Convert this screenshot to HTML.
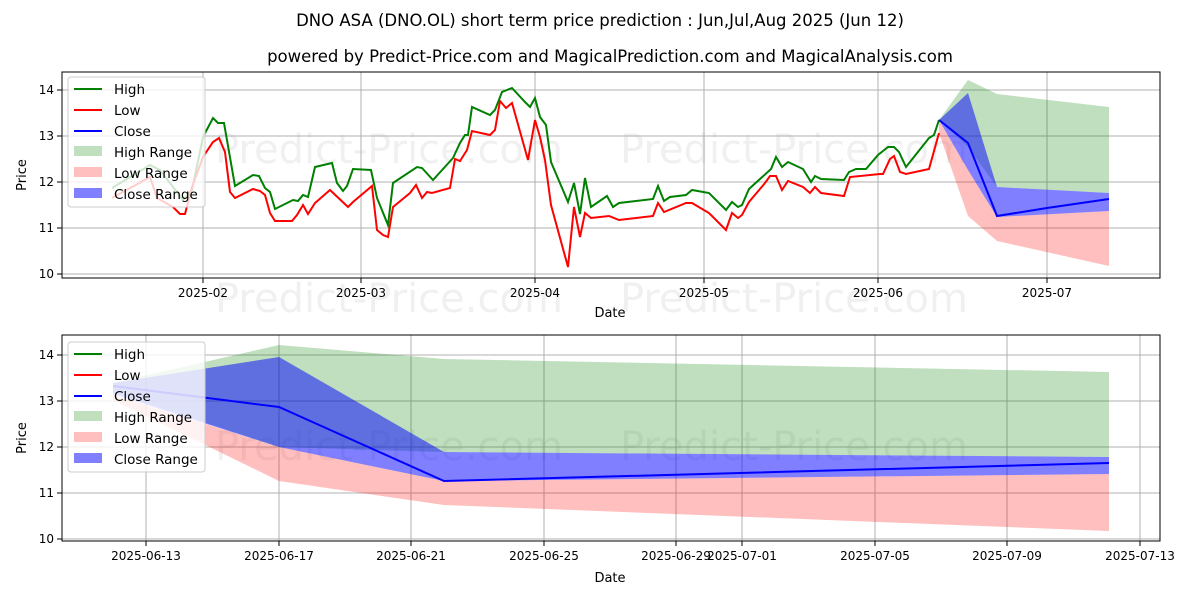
<!DOCTYPE html>
<html><head><meta charset="utf-8"><style>
body{margin:0;background:#fff}
svg text{font-family:"DejaVu Sans","Liberation Sans",sans-serif}
</style></head><body>
<svg width="1200" height="600" viewBox="0 0 1200 600" xmlns="http://www.w3.org/2000/svg">
<rect width="1200" height="600" fill="#fff"/>
<text x="600" y="26" font-size="16.5" text-anchor="middle">DNO ASA (DNO.OL) short term price prediction : Jun,Jul,Aug 2025 (Jun 12)</text>
<text x="610" y="62" font-size="16.5" text-anchor="middle">powered by Predict-Price.com and MagicalPrediction.com and MagicalAnalysis.com</text>

<!-- TOP CHART -->
<g>
<g fill="#000" fill-opacity="0.06" font-size="40">
<text x="215" y="163">Predict-Price.com</text><text x="620" y="163">Predict-Price.com</text>
<text x="215" y="312">Predict-Price.com</text><text x="620" y="312">Predict-Price.com</text>
</g>
<g stroke="#b0b0b0" stroke-width="1">
<line x1="203" y1="72" x2="203" y2="278"/><line x1="361" y1="72" x2="361" y2="278"/><line x1="535" y1="72" x2="535" y2="278"/><line x1="704" y1="72" x2="704" y2="278"/><line x1="878" y1="72" x2="878" y2="278"/><line x1="1047" y1="72" x2="1047" y2="278"/>
<line x1="62" y1="90" x2="1160" y2="90"/><line x1="62" y1="136" x2="1160" y2="136"/><line x1="62" y1="182" x2="1160" y2="182"/><line x1="62" y1="228" x2="1160" y2="228"/><line x1="62" y1="274" x2="1160" y2="274"/>
</g>
<polygon points="939,120 968,80 997,94 1109,107 1109,193 997,187 968,147" fill="#008000" fill-opacity="0.25"/>
<polygon points="939,120 968,170 997,217 1109,211 1109,266 997,241 968,216 939,133" fill="#ff0000" fill-opacity="0.25"/>
<polygon points="939,120 968,93 997,187 1109,193 1109,211 997,217 968,170" fill="#0000ff" fill-opacity="0.5"/>
<polyline fill="none" stroke="#008000" stroke-width="2" points="112,188 150,165 160,170 183,200 192,190 203,137 213,118 218,123 224,123 235,186 253,175 259,176 265,188 270,192 275,209 293,200 298,201 303,195 308,197 315,167 332,163 337,183 343,191 347,186 353,169 371,170 377,198 388,225 393,183 417,167 422,168 433,180 453,158 460,143 465,135 468,135 472,107 490,115 495,110 502,92 512,88 525,102 530,107 535,98 540,117 546,125 551,162 568,202 574,183 580,214 585,178 591,207 607,196 613,207 619,203 653,199 658,186 664,201 670,197 686,195 692,190 709,193 726,210 732,202 738,207 742,205 749,189 771,169 776,157 782,167 788,162 803,169 811,182 815,176 821,179 844,180 849,172 856,169 866,169 878,155 888,147 894,147 899,152 906,167 929,138 934,135 939,120"/>
<polyline fill="none" stroke="#ff0000" stroke-width="2" points="112,198 150,177 157,198 173,207 180,214 185,214 192,187 203,157 213,142 219,138 225,152 230,192 235,198 253,189 260,191 265,195 270,213 275,221 292,221 297,215 303,205 308,214 315,203 330,190 348,207 353,202 372,186 377,230 383,235 388,237 393,207 410,193 416,185 422,198 427,192 432,193 450,188 455,159 460,161 467,150 472,131 490,135 495,130 500,101 506,108 512,103 528,160 535,120 540,137 545,160 551,205 568,267 574,207 580,237 585,213 591,218 609,216 619,220 653,216 658,203 664,212 686,203 692,203 709,213 726,230 732,213 738,218 742,215 749,202 765,183 770,176 776,176 782,190 788,181 803,187 810,193 815,187 821,193 844,196 850,177 880,174 883,174 890,159 894,156 900,172 906,174 929,169 939,133"/>
<polyline fill="none" stroke="#0000ff" stroke-width="2" points="939,120 968,143 997,216 1047,208 1109,199"/>
<rect x="62" y="72" width="1098" height="206" fill="none" stroke="#000" stroke-width="1"/>
<g stroke="#000"><line x1="57" y1="90" x2="62" y2="90"/><line x1="57" y1="136" x2="62" y2="136"/><line x1="57" y1="182" x2="62" y2="182"/><line x1="57" y1="228" x2="62" y2="228"/><line x1="57" y1="274" x2="62" y2="274"/>
<line x1="203" y1="278" x2="203" y2="283"/><line x1="361" y1="278" x2="361" y2="283"/><line x1="535" y1="278" x2="535" y2="283"/><line x1="704" y1="278" x2="704" y2="283"/><line x1="878" y1="278" x2="878" y2="283"/><line x1="1047" y1="278" x2="1047" y2="283"/></g>
<g font-size="12" text-anchor="end"><text x="54" y="94">14</text><text x="54" y="140">13</text><text x="54" y="186">12</text><text x="54" y="232">11</text><text x="54" y="278">10</text></g>
<g font-size="12" text-anchor="middle"><text x="203" y="297">2025-02</text><text x="361" y="297">2025-03</text><text x="535" y="297">2025-04</text><text x="704" y="297">2025-05</text><text x="878" y="297">2025-06</text><text x="1047" y="297">2025-07</text></g>
<text x="610" y="317" font-size="13" text-anchor="middle">Date</text>
<text x="26" y="175" font-size="13" text-anchor="middle" transform="rotate(-90 26 175)">Price</text>
<rect x="68" y="77" width="137" height="130" rx="3" fill="#fff" fill-opacity="0.8" stroke="#ccc"/>
<g font-size="13.5">
<line x1="74" y1="89" x2="102" y2="89" stroke="#008000" stroke-width="2"/><text x="114" y="94">High</text>
<line x1="74" y1="110" x2="102" y2="110" stroke="#ff0000" stroke-width="2"/><text x="114" y="115">Low</text>
<line x1="74" y1="131" x2="102" y2="131" stroke="#0000ff" stroke-width="2"/><text x="114" y="136">Close</text>
<rect x="74" y="146" width="28" height="10" fill="#008000" fill-opacity="0.25"/><text x="114" y="157">High Range</text>
<rect x="74" y="167" width="28" height="10" fill="#ff0000" fill-opacity="0.25"/><text x="114" y="178">Low Range</text>
<rect x="74" y="188" width="28" height="10" fill="#0000ff" fill-opacity="0.5"/><text x="114" y="199">Close Range</text>
</g>
</g>

<!-- BOTTOM CHART -->
<g>
<g fill="#000" fill-opacity="0.06" font-size="40">
<text x="215" y="460">Predict-Price.com</text><text x="620" y="460">Predict-Price.com</text>
</g>
<g stroke="#b0b0b0" stroke-width="1">
<line x1="146" y1="335" x2="146" y2="541"/><line x1="279" y1="335" x2="279" y2="541"/><line x1="411" y1="335" x2="411" y2="541"/><line x1="544" y1="335" x2="544" y2="541"/><line x1="676" y1="335" x2="676" y2="541"/><line x1="742" y1="335" x2="742" y2="541"/><line x1="875" y1="335" x2="875" y2="541"/><line x1="1007" y1="335" x2="1007" y2="541"/><line x1="1140" y1="335" x2="1140" y2="541"/>
<line x1="62" y1="355" x2="1160" y2="355"/><line x1="62" y1="401" x2="1160" y2="401"/><line x1="62" y1="447" x2="1160" y2="447"/><line x1="62" y1="493" x2="1160" y2="493"/><line x1="62" y1="539" x2="1160" y2="539"/>
</g>
<polygon points="113,383 279,345 444,359 1109,372 1109,457 444,452 279,447 113,392" fill="#008000" fill-opacity="0.25"/>
<polygon points="113,395 279,447 444,481 1109,474 1109,531 444,505 279,481 113,400" fill="#ff0000" fill-opacity="0.25"/>
<polygon points="113,383 279,357 444,452 1109,457 1109,474 444,481 279,447 113,394" fill="#0000ff" fill-opacity="0.5"/>
<polyline fill="none" stroke="#0000ff" stroke-width="2" points="113,386 279,407 444,481 1109,463"/>
<rect x="62" y="335" width="1098" height="206" fill="none" stroke="#000" stroke-width="1"/>
<g stroke="#000"><line x1="57" y1="355" x2="62" y2="355"/><line x1="57" y1="401" x2="62" y2="401"/><line x1="57" y1="447" x2="62" y2="447"/><line x1="57" y1="493" x2="62" y2="493"/><line x1="57" y1="539" x2="62" y2="539"/>
<line x1="146" y1="541" x2="146" y2="546"/><line x1="279" y1="541" x2="279" y2="546"/><line x1="411" y1="541" x2="411" y2="546"/><line x1="544" y1="541" x2="544" y2="546"/><line x1="676" y1="541" x2="676" y2="546"/><line x1="742" y1="541" x2="742" y2="546"/><line x1="875" y1="541" x2="875" y2="546"/><line x1="1007" y1="541" x2="1007" y2="546"/><line x1="1140" y1="541" x2="1140" y2="546"/></g>
<g font-size="12" text-anchor="end"><text x="54" y="359">14</text><text x="54" y="405">13</text><text x="54" y="451">12</text><text x="54" y="497">11</text><text x="54" y="543">10</text></g>
<g font-size="12" text-anchor="middle"><text x="146" y="560">2025-06-13</text><text x="279" y="560">2025-06-17</text><text x="411" y="560">2025-06-21</text><text x="544" y="560">2025-06-25</text><text x="676" y="560">2025-06-29</text><text x="742" y="560">2025-07-01</text><text x="875" y="560">2025-07-05</text><text x="1007" y="560">2025-07-09</text><text x="1140" y="560">2025-07-13</text></g>
<text x="610" y="582" font-size="13" text-anchor="middle">Date</text>
<text x="26" y="438" font-size="13" text-anchor="middle" transform="rotate(-90 26 438)">Price</text>
<rect x="68" y="342" width="137" height="130" rx="3" fill="#fff" fill-opacity="0.8" stroke="#ccc"/>
<g font-size="13.5">
<line x1="74" y1="354" x2="102" y2="354" stroke="#008000" stroke-width="2"/><text x="114" y="359">High</text>
<line x1="74" y1="375" x2="102" y2="375" stroke="#ff0000" stroke-width="2"/><text x="114" y="380">Low</text>
<line x1="74" y1="396" x2="102" y2="396" stroke="#0000ff" stroke-width="2"/><text x="114" y="401">Close</text>
<rect x="74" y="411" width="28" height="10" fill="#008000" fill-opacity="0.25"/><text x="114" y="422">High Range</text>
<rect x="74" y="432" width="28" height="10" fill="#ff0000" fill-opacity="0.25"/><text x="114" y="443">Low Range</text>
<rect x="74" y="453" width="28" height="10" fill="#0000ff" fill-opacity="0.5"/><text x="114" y="464">Close Range</text>
</g>
</g>
</svg>
</body></html>
